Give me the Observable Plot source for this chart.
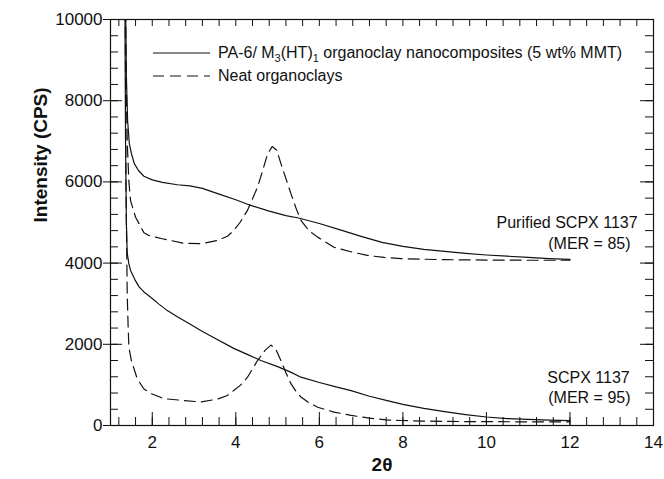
<!DOCTYPE html>
<html>
<head>
<meta charset="utf-8">
<script src="https://cdn.jsdelivr.net/npm/d3@7"></script>
<script src="https://cdn.jsdelivr.net/npm/@observablehq/plot@0.6"></script>
<style>
  body { margin: 0; background: #fff; }
  #wrap { position: relative; width: 664px; height: 479px; font-family: "Liberation Sans", Arial, sans-serif; }
  .leg { position: absolute; left: 153px; height: 20px; display: flex; align-items: center; font-size: 16px; color: #111; white-space: nowrap; }
  .leg svg { margin-right: 8px; }
  .leg sub { font-size: 11px; line-height: 0; vertical-align: -4px; }
</style>
</head>
<body>
<div id="wrap"></div>
<script>
// ---- data ----
const purifiedNanoX = [1.34,1.36,1.38,1.41,1.45,1.5,1.57,1.67,1.8,2.0,2.24,2.6,2.9,3.2,3.6,4.0,4.36,4.8,5.2,5.5,6.0,6.5,7.0,7.5,8.0,8.5,9.0,9.5,10.0,10.5,11.0,11.5,12.0];
const purifiedNanoY = [14000,10500,8600,7500,6950,6700,6450,6280,6140,6050,5990,5930,5900,5840,5700,5560,5420,5280,5170,5110,4975,4820,4660,4510,4410,4340,4290,4240,4200,4170,4140,4110,4090];

const purifiedNeatX = [1.34,1.37,1.4,1.44,1.48,1.6,1.8,1.92,2.24,2.75,3.2,3.56,3.8,3.95,4.1,4.28,4.52,4.65,4.76,4.87,4.98,5.08,5.2,5.32,5.45,5.56,5.75,5.96,6.35,6.75,7.15,7.55,7.95,8.5,9.0,10.0,11.0,12.0];
const purifiedNeatY = [14000,9000,7000,6000,5540,5130,4750,4680,4600,4490,4480,4560,4660,4800,5000,5300,5870,6300,6690,6870,6780,6450,6080,5710,5330,5050,4800,4640,4390,4280,4190,4140,4110,4095,4085,4075,4070,4070];

const scpxNanoX = [1.33,1.36,1.38,1.4,1.44,1.48,1.58,1.68,1.8,2.0,2.16,2.36,2.6,2.9,3.16,3.5,3.95,4.3,4.6,5.0,5.3,5.56,6.0,6.4,6.76,7.2,7.6,8.0,8.5,9.0,9.5,10.0,10.5,11.0,11.5,12.0];
const scpxNanoY = [14000,7000,5000,4250,3980,3820,3600,3420,3290,3130,2990,2830,2680,2500,2340,2150,1900,1740,1600,1450,1320,1190,1060,950,860,720,620,520,420,340,270,210,170,150,130,120];

const scpxNeatX = [1.34,1.37,1.4,1.42,1.44,1.5,1.64,1.8,1.96,2.28,2.76,3.16,3.56,3.8,3.95,4.12,4.28,4.52,4.7,4.84,4.95,5.08,5.2,5.32,5.44,5.56,5.75,5.96,6.35,6.76,7.2,7.6,7.95,8.5,9.0,10.0,11.0,12.0];
const scpxNeatY = [14000,6000,3250,2500,1930,1600,1150,900,790,660,615,580,650,740,860,1000,1190,1600,1850,1980,1900,1600,1300,1030,840,700,560,450,330,250,180,140,123,110,100,95,90,90];

const xTickLabels = [2, 4, 6, 8, 10, 12, 14];
const yTickLabels = [0, 2000, 4000, 6000, 8000, 10000];

const annotLabels = ["Purified SCPX 1137", "(MER = 85)", "SCPX 1137", "(MER = 95)"];
const annotX = [13.62, 13.45, 13.43, 13.45];
const annotY = [5000, 4480, 1182, 690];

const legendLabels = ["PA-6/ M<sub>3</sub>(HT)<sub>1</sub> organoclay nanocomposites (5 wt% MMT)", "Neat organoclays"];

// ---- build ----
const toRows = (xs, ys) => xs.map((x, i) => ({x, y: ys[i]}));
const W = 664, H = 479, mL = 110, mR = 11, mT = 19, mB = 54;
const PW = W - mL - mR, PH = H - mT - mB;
const xMinor = d3.range(12, 141, 4).map(d => d / 10);
const yMinor = d3.range(0, 10001, 400);
const annots = annotLabels.map((t, i) => ({t, x: annotX[i], y: annotY[i]}));
const lineStyle = {x: "x", y: "y", stroke: "#111", strokeWidth: 1.2, clip: true};
const dash = "11,6";

const chart = Plot.plot({
  width: W, height: H,
  marginLeft: mL, marginRight: mR, marginTop: mT, marginBottom: mB,
  style: {fontFamily: '"Liberation Sans", Arial, sans-serif', fontSize: "17px", color: "#111", background: "#fff"},
  x: {domain: [1, 14]},
  y: {domain: [0, 10000]},
  marks: [
    Plot.line(toRows(purifiedNanoX, purifiedNanoY), lineStyle),
    Plot.line(toRows(purifiedNeatX, purifiedNeatY), {...lineStyle, strokeDasharray: dash}),
    Plot.line(toRows(scpxNanoX, scpxNanoY), lineStyle),
    Plot.line(toRows(scpxNeatX, scpxNeatY), {...lineStyle, strokeDasharray: dash}),
    // ticks (inward)
    Plot.tickX(xMinor, {x: d => d, insetTop: PH - 8, stroke: "#111"}),
    Plot.tickX(xTickLabels, {x: d => d, insetTop: PH - 13, stroke: "#111"}),
    Plot.tickX(xMinor, {x: d => d, insetBottom: PH - 7, stroke: "#111"}),
    Plot.tickY(yMinor, {y: d => d, insetRight: PW - 8, stroke: "#111"}),
    Plot.tickY(yTickLabels, {y: d => d, insetRight: PW - 12, stroke: "#111"}),
    Plot.tickY(yMinor, {y: d => d, insetLeft: PW - 8, stroke: "#111"}),
    Plot.tickY(yTickLabels, {y: d => d, insetLeft: PW - 13, stroke: "#111"}),
    Plot.axisX(xTickLabels, {tickSize: 0, tickPadding: 10, fontSize: 17, label: null}),
    Plot.axisY(yTickLabels, {tickSize: 7, tickPadding: 1, fontSize: 17, label: null, tickFormat: d => String(d)}),
    Plot.frame({stroke: "#111", strokeWidth: 1.2}),
    Plot.text(annots, {x: "x", y: "y", text: "t", textAnchor: "end", fontSize: 16, fill: "#111"}),
    Plot.text(["2θ"], {frameAnchor: "bottom", dy: 45, fontSize: 19, fontWeight: "bold", fill: "#111"}),
    Plot.text(["Intensity (CPS)"], {frameAnchor: "left", dx: -70, rotate: -90, fontSize: 19, fontWeight: "bold", fill: "#111"})
  ]
});

const wrap = document.getElementById("wrap");
wrap.appendChild(chart);
legendLabels.forEach((lab, i) => {
  const row = document.createElement("div");
  row.className = "leg";
  row.style.top = (43 + i * 23) + "px";
  row.innerHTML = `<svg width="57" height="20"><line x1="0" x2="57" y1="10" y2="10" stroke="#111" stroke-width="1.2" ${i ? 'stroke-dasharray="11,6"' : ''}/></svg><span>${lab}</span>`;
  wrap.appendChild(row);
});
</script>
</body>
</html>
